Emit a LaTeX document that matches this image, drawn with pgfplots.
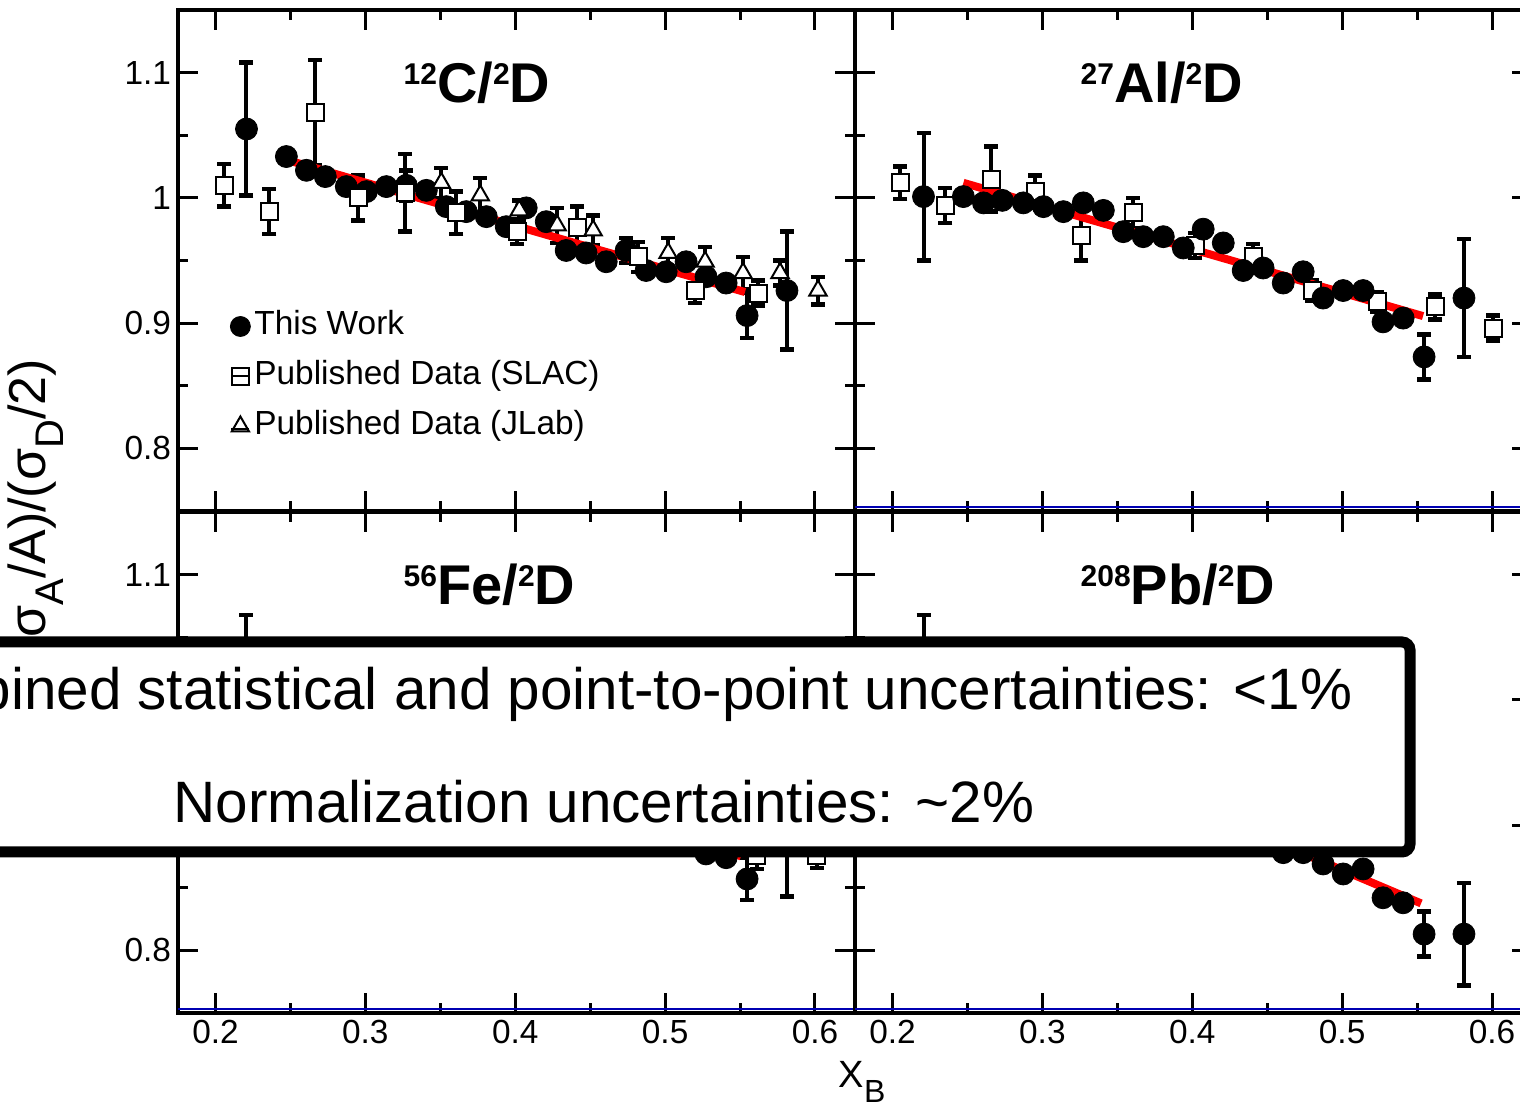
\documentclass[border=0pt]{standalone}
\usepackage{fontspec}
\setmainfont{Liberation Sans}
\usepackage{pgfplots}
\usepackage{pgfplotstable}
\pgfplotsset{compat=1.18}

% x  ratio  error
\pgfplotstableread{
x y e
0.2207 1.055 0.053
0.2473 1.033 0
0.2607 1.022 0
0.2733 1.017 0
0.2873 1.009 0
0.3007 1.005 0
0.3140 1.009 0
0.3273 1.010 0.012
0.3407 1.006 0
0.3540 0.993 0
0.3673 0.989 0
0.3807 0.985 0
0.3940 0.977 0
0.4073 0.992 0
0.4207 0.981 0
0.4340 0.958 0
0.4473 0.956 0
0.4607 0.949 0
0.4740 0.958 0.010
0.4873 0.942 0
0.5007 0.941 0
0.5140 0.949 0
0.5273 0.937 0
0.5407 0.932 0
0.5547 0.906 0.018
0.5813 0.926 0.047
}\cwork
\pgfplotstableread{
x y e
0.2060 1.010 0.017
0.2360 0.989 0.018
0.2667 1.068 0.042
0.2953 1.000 0.018
0.3267 1.004 0.031
0.3607 0.988 0.017
0.4013 0.973 0.010
0.4413 0.976 0.017
0.4820 0.953 0.012
0.5200 0.926 0.010
0.5620 0.924 0.010
}\cslac
\pgfplotstableread{
x y e
0.3507 1.012 0.012
0.3767 1.002 0.014
0.4027 0.990 0.008
0.4280 0.978 0.014
0.4520 0.974 0.012
0.5020 0.956 0.012
0.5267 0.949 0.012
0.5520 0.940 0.013
0.5767 0.940 0.010
0.6020 0.926 0.011
}\cjlab
\pgfplotstableread{
x y e
0.2207 1.001 0.051
0.2473 1.001 0
0.2607 0.996 0
0.2733 0.998 0
0.2873 0.996 0
0.3007 0.993 0
0.3140 0.989 0
0.3273 0.996 0
0.3407 0.990 0
0.3540 0.973 0
0.3673 0.969 0
0.3807 0.969 0
0.3940 0.960 0
0.4073 0.975 0
0.4207 0.964 0
0.4340 0.942 0
0.4473 0.944 0
0.4607 0.932 0
0.4740 0.941 0
0.4873 0.920 0
0.5007 0.926 0
0.5140 0.926 0
0.5273 0.901 0
0.5407 0.904 0
0.5547 0.873 0.018
0.5813 0.920 0.047
}\alwork
\pgfplotstableread{
x y e
0.2053 1.012 0.013
0.2353 0.994 0.014
0.2660 1.015 0.026
0.2953 1.005 0.013
0.3260 0.970 0.020
0.3607 0.988 0.012
0.4020 0.962 0.010
0.4407 0.953 0.010
0.4800 0.926 0.008
0.5233 0.917 0.008
0.5620 0.913 0.010
0.6007 0.896 0.010
}\alslac
\pgfplotstableread{
x y e
0.2207 1.018 0.050
0.2473 1.022 0
0.2607 1.012 0
0.2733 1.010 0
0.2873 1.000 0
0.3007 0.998 0
0.3140 0.990 0
0.3273 0.988 0.010
0.3407 0.975 0
0.3540 0.972 0
0.3673 0.962 0
0.3807 0.958 0
0.3940 0.952 0
0.4073 0.950 0
0.4207 0.938 0
0.4340 0.930 0
0.4473 0.925 0
0.4607 0.918 0
0.4740 0.915 0
0.4873 0.905 0
0.5007 0.900 0
0.5140 0.890 0
0.5273 0.877 0
0.5407 0.874 0
0.5547 0.857 0.017
0.5813 0.890 0.047
}\fework
\pgfplotstableread{
x y e
0.2060 1.012 0.017
0.2360 0.995 0.018
0.2667 1.010 0.030
0.2953 0.998 0.015
0.3267 0.985 0.025
0.3607 0.972 0.015
0.4013 0.955 0.010
0.4413 0.935 0.012
0.4820 0.915 0.010
0.5200 0.900 0.010
0.5613 0.876 0.011
0.6013 0.876 0.010
}\feslac
\pgfplotstableread{
x y e
0.2207 1.015 0.053
0.2473 0.995 0
0.2607 0.985 0
0.2733 0.980 0
0.2873 0.972 0
0.3007 0.965 0
0.3140 0.958 0
0.3273 0.952 0.010
0.3407 0.945 0
0.3540 0.938 0
0.3673 0.930 0
0.3807 0.925 0
0.3940 0.917 0
0.4073 0.912 0
0.4207 0.905 0
0.4340 0.898 0
0.4473 0.892 0
0.4607 0.878 0
0.4740 0.878 0
0.4873 0.869 0
0.5007 0.861 0
0.5140 0.865 0
0.5273 0.842 0
0.5407 0.838 0
0.5547 0.813 0.018
0.5813 0.813 0.041
}\pbwork

\newcommand{\iso}[2]{\raisebox{9pt}{\fontsize{15}{15}\selectfont #1}#2}

\tikzset{paneltitle/.style={anchor=base west, font=\bfseries\fontsize{28}{28}\selectfont}}

\pgfplotsset{
  panel/.style={
    scale only axis, width=338.5pt, height=250.5pt, anchor=south west,
    xmin=0.175, xmax=0.6267, ymin=0.75, ymax=1.15,
    xtick={0.2,0.3,0.4,0.5,0.6}, minor xtick={0.25,0.35,0.45,0.55},
    ytick={0.8,0.9,1,1.1}, minor ytick={0.85,0.95,1.05},
    tick align=inside, tick pos=both,
    axis line style={line width=2pt},
    tick style={black, line width=1.5pt},
    major tick length=10pt, minor tick length=5pt,
    tick label style={font=\fontsize{16.7}{20}\selectfont},
    /pgf/number format/assume math mode=true,
    xticklabel style={/pgf/number format/fixed, /pgf/number format/precision=1},
  },
  errs/.style={error bars/y dir=both, error bars/y explicit,
    error bars/error mark=|,
    error bars/error bar style={line width=2pt, black},
    error bars/error mark options={line width=2.2pt, mark size=3.5pt, black}},
  work/.style={only marks, black, mark=*, mark size=5.5pt, mark options={fill=black, draw=black}, errs},
  slac/.style={only marks, black, mark=square*, mark size=4.25pt,
    mark options={fill=white, draw=black, line width=1pt}, errs},
  jlab/.style={only marks, black, mark=triangle*, mark size=5pt,
    mark options={fill=white, draw=black, line width=1pt}, errs},
  fitline/.style={red, line width=4pt, no marks},
  legwork/.style={legend image code/.code={
    \draw[black, mark=*, mark size=5pt, mark options={fill=black}] plot coordinates {(0pt,0pt)};}},
  legslac/.style={legend image code/.code={
    \draw[black, mark=square*, mark size=4.25pt, mark options={fill=white, line width=1pt}] plot coordinates {(0pt,0pt)};
    \draw[line width=1pt] (-4.5pt,0pt) -- (4.5pt,0pt);}},
  legjlab/.style={legend image code/.code={
    \draw[black, mark=triangle*, mark size=5pt, mark options={fill=white, line width=1pt}] plot coordinates {(0pt,0pt)};
    \draw[line width=1pt] (-4.5pt,-1.5pt) -- (4.5pt,-1.5pt);}},
}

\begin{document}
\begin{tikzpicture}
\useasboundingbox (0pt,0pt) rectangle (760pt,556pt);
\begin{scope}[overlay]

% 12C/2D
\begin{axis}[panel, at={(89pt,300.5pt)}, xticklabels={},
  legend style={at={(0.0768,0.409)}, anchor=north west, draw=none, fill=none,
    inner sep=0pt, row sep=5pt, font=\fontsize{16.7}{20}\selectfont,
    nodes={inner sep=2pt, text height=12pt, text depth=4pt}},
  legend cell align=left]
\addplot[work, legwork] table[x=x, y=y, y error=e] {\cwork};
\addlegendentry{This Work}
\addplot[slac, legslac] table[x=x, y=y, y error=e] {\cslac};
\addlegendentry{Published Data (SLAC)}
\addplot[jlab, legjlab] table[x=x, y=y, y error=e] {\cjlab};
\addlegendentry{Published Data (JLab)}
\addplot[fitline, forget plot] coordinates {(0.2473,1.0304) (0.5533,0.9248)};
\node[paneltitle] at (rel axis cs:0.323,0.816) {\iso{12}{C}/\iso{2}{D}};
\end{axis}

% 27Al/2D
\begin{axis}[panel, at={(427.5pt,300.5pt)}, xticklabels={}, yticklabels={}]
\addplot[slac] table[x=x, y=y, y error=e] {\alslac};
\addplot[work] table[x=x, y=y, y error=e] {\alwork};
\addplot[fitline] coordinates {(0.2473,1.012) (0.554,0.9056)};
\draw[blue!70!black, line width=1.2pt] (rel axis cs:0,0.008) -- (rel axis cs:1,0.008);
\node[paneltitle] at (rel axis cs:0.323,0.816) {\iso{27}{Al}/\iso{2}{D}};
\end{axis}

% 56Fe/2D
\begin{axis}[panel, at={(89pt,49.5pt)}]
\addplot[work] table[x=x, y=y, y error=e] {\fework};
\addplot[slac] table[x=x, y=y, y error=e] {\feslac};
\addplot[fitline] coordinates {(0.2473,1.020) (0.5507,0.875)};
\draw[blue!70!black, line width=1.2pt] (rel axis cs:0,0.008) -- (rel axis cs:1,0.008);
\node[paneltitle] at (rel axis cs:0.323,0.816) {\iso{56}{Fe}/\iso{2}{D}};
\end{axis}

% 208Pb/2D
\begin{axis}[panel, at={(427.5pt,49.5pt)}, yticklabels={}]
\addplot[work] table[x=x, y=y, y error=e] {\pbwork};
\addplot[fitline] coordinates {(0.2473,0.992) (0.5527,0.8375)};
\draw[blue!70!black, line width=1.2pt] (rel axis cs:0,0.008) -- (rel axis cs:1,0.008);
\node[paneltitle] at (rel axis cs:0.323,0.816) {\iso{208}{Pb}/\iso{2}{D}};
\end{axis}

% axis labels
\node[rotate=90, anchor=east, font=\fontsize{26}{26}\selectfont] at (18pt,380pt)
  {(σ\raisebox{-9pt}{\fontsize{20}{20}\selectfont A}/A)/(σ\raisebox{-9pt}{\fontsize{20}{20}\selectfont D}/2)};
\node[anchor=base, font=\fontsize{19}{19}\selectfont] at (431pt,12pt)
  {X\raisebox{-7.5pt}{\fontsize{16}{16}\selectfont B}};

% overlay box
\draw[line width=5.5pt, fill=white, rounded corners=4pt] (-30pt,235pt) rectangle (705pt,130pt);
\node[anchor=base, font=\fontsize{29.2}{29.2}\selectfont] at (302pt,201pt)
  {Combined statistical and point-to-point uncertainties: <1\%};
\node[anchor=base, font=\fontsize{29.2}{29.2}\selectfont] at (302pt,144.5pt)
  {Normalization uncertainties: \textasciitilde 2\%};
\end{scope}
\end{tikzpicture}
\end{document}
